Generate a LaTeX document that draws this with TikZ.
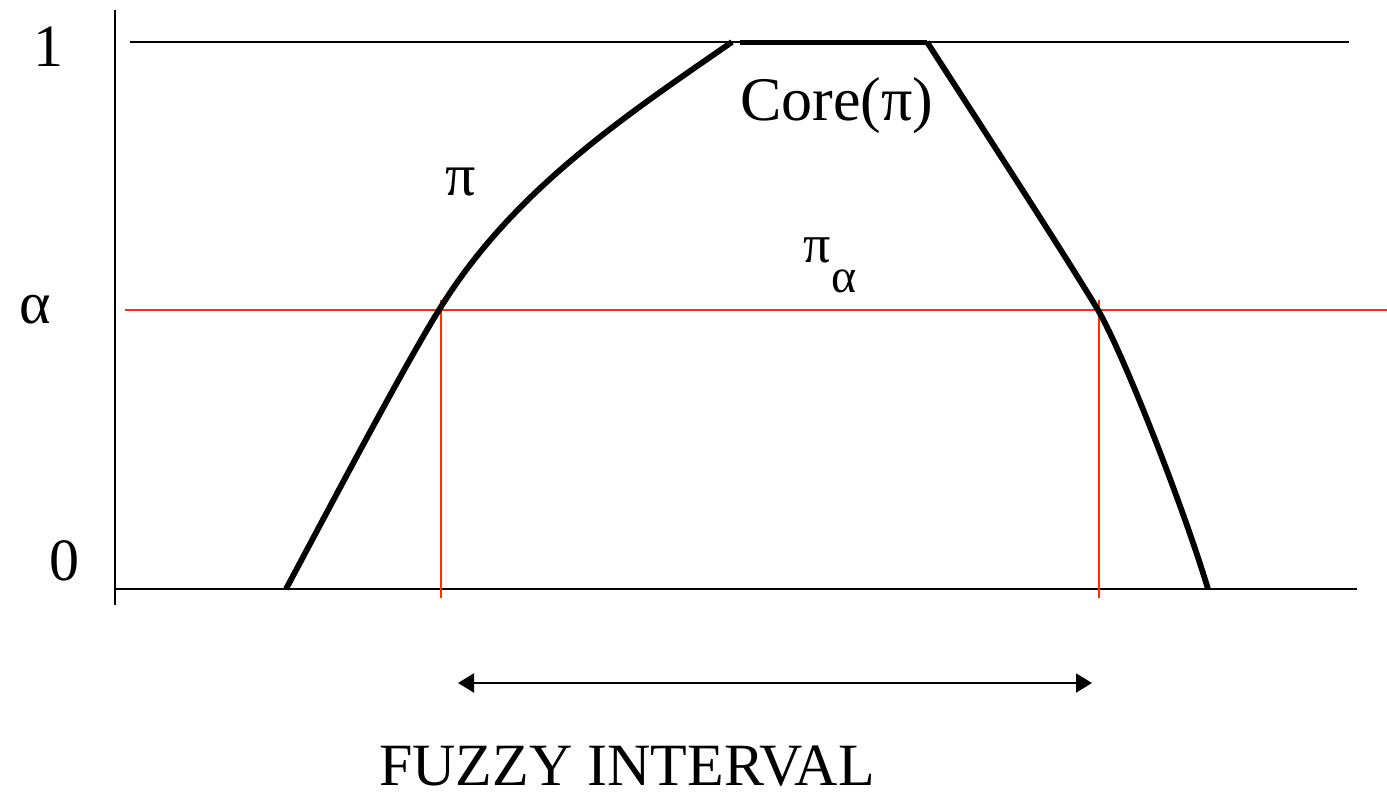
\documentclass[tikz,border=0pt]{standalone}
\usepackage{fontspec}
\setmainfont{Liberation Serif}
\usetikzlibrary{arrows.meta}
\definecolor{cutred}{RGB}{255,45,0}
\tikzset{
  axisline/.style={line width=1.6pt, black},
  cutline/.style={line width=1.6pt, cutred},
  member/.style={line width=5.8pt, black, line join=round},
  corebar/.style={line width=5pt, black},
  lbl/.style={anchor=base, inner sep=0pt, font=\fontsize{60}{60}\selectfont},
  intervalarrow/.style={line width=2pt, {Triangle[length=16pt,width=19pt]}-{Triangle[length=16pt,width=19pt]}}
}
\begin{document}
\begin{tikzpicture}[x=1pt,y=-1pt]
\useasboundingbox (0,0) rectangle (1387,795);
% axes
\coordinate (ytop) at (115,10);
\coordinate (ybot) at (115,605);
\draw[axisline] (ytop) -- (ybot);
\coordinate (oneL) at (130,42);
\coordinate (oneR) at (1349,42);
\draw[axisline] (oneL) -- (oneR);
\coordinate (zeroL) at (115,589);
\coordinate (zeroR) at (1357,589);
\draw[axisline] (zeroL) -- (zeroR);
% alpha cut
\coordinate (alL) at (125,310);
\coordinate (alR) at (1387,310);
\draw[cutline] (alL) -- (alR);
\coordinate (cutAtop) at (441,300);
\coordinate (cutAbot) at (441,598);
\coordinate (cutBtop) at (1099,300);
\coordinate (cutBbot) at (1099,598);
\draw[cutline] (cutAtop) -- (cutAbot);
\draw[cutline] (cutBtop) -- (cutBbot);
% membership function
\coordinate (lfoot) at (286,589);
\coordinate (lcut) at (439,310);
\coordinate (ltop) at (732,42);
\coordinate (rtop) at (927,42);
\coordinate (rcut) at (1098,310);
\coordinate (rfoot) at (1208,589);
\draw[member] (lfoot) .. controls (333,501) and (403,368) .. (lcut)
  .. controls (512,191) and (625,116) .. (ltop);
\draw[corebar] (740,42) -- (rtop);
\draw[member] (rtop) .. controls (985,132) and (1065,255) .. (rcut)
  .. controls (1123,353) and (1182,503) .. (rfoot);
% labels
\node[lbl] (lone) at (48,66) {1};
\node[lbl] (lalpha) at (35,323) {α};
\node[lbl] (lzero) at (64,580) {0};
\node[lbl] (lpi) at (461,195) {π};
\node[lbl, font=\fontsize{62}{62}\selectfont] (lcore) at (837,120) {Core(π)};
\node[lbl, font=\fontsize{48}{48}\selectfont] (lpia) at (830,262) {{\fontsize{54}{54}\selectfont π}\raisebox{-30pt}{α}};
% interval arrow
\coordinate (arrL) at (458,683);
\coordinate (arrR) at (1092,683);
\draw[intervalarrow] (arrL) -- (arrR);
\node[lbl, font=\fontsize{60}{60}\selectfont] (lfuzzy) at (627,785) {FUZZY INTERVAL};
\end{tikzpicture}
\end{document}
